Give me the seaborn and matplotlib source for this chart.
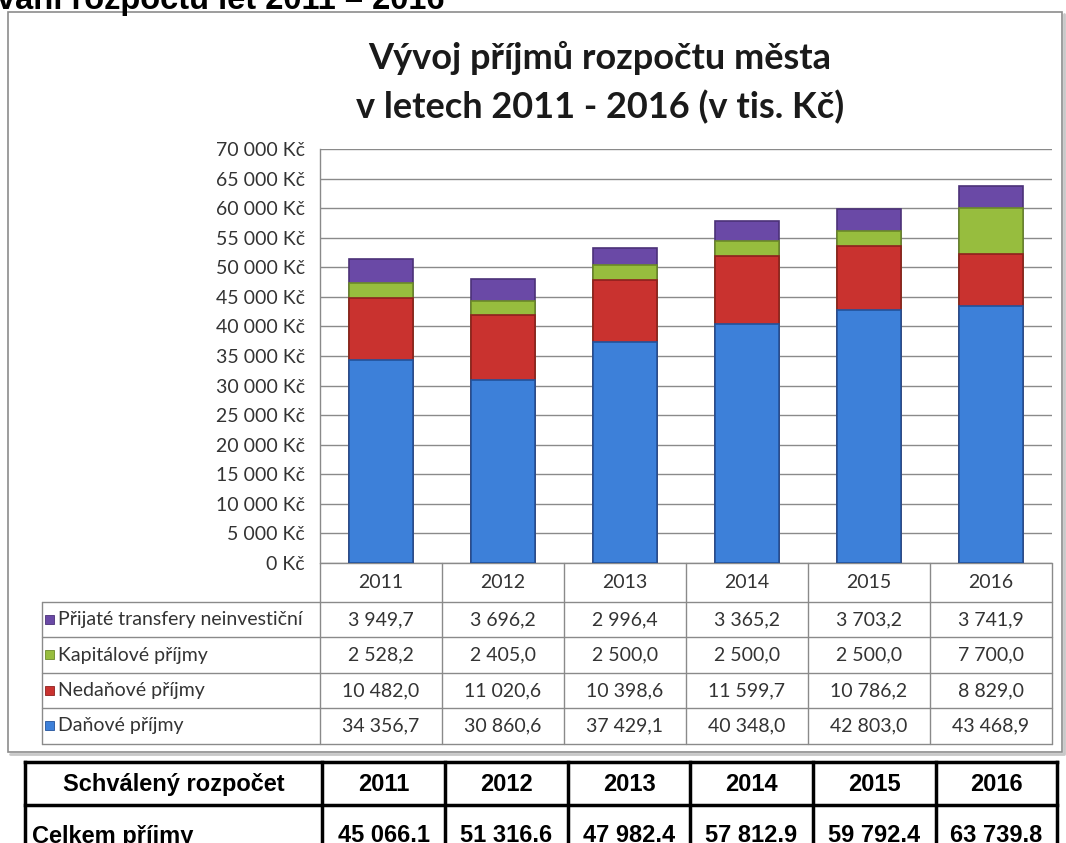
import pandas as pd
import matplotlib
matplotlib.use("Agg")
import matplotlib.pyplot as plt
import seaborn as sns
from matplotlib import font_manager
from matplotlib.patches import Rectangle

years = ["2011", "2012", "2013", "2014", "2015", "2016"]
danove = [34356.7, 30860.6, 37429.1, 40348.0, 42803.0, 43468.9]
nedanove = [10482.0, 11020.6, 10398.6, 11599.7, 10786.2, 8829.0]
kapitalove = [2528.2, 2405.0, 2500.0, 2500.0, 2500.0, 7700.0]
transfery = [3949.7, 3696.2, 2996.4, 3365.2, 3703.2, 3741.9]
celkem = [45066.1, 51316.6, 47982.4, 57812.9, 59792.4, 63739.8]

# top-to-bottom order as in the data table under the chart
series = [
    ("Přijaté transfery neinvestiční", transfery, "#6a49a6", "#4b3178"),
    ("Kapitálové příjmy", kapitalove, "#97bd3e", "#6b8a27"),
    ("Nedaňové příjmy", nedanove, "#c9322f", "#8e201e"),
    ("Daňové příjmy", danove, "#3d80d9", "#22529a"),
]

sns.set_theme(style="white")


def has_font(name):
    try:
        font_manager.findfont(name, fallback_to_default=False)
        return True
    except Exception:
        return False


body = "Lato" if has_font("Lato") else "DejaVu Sans"
plt.rcParams["font.family"] = [body, "DejaVu Sans"]

W, H = 1066, 843
fig = plt.figure(figsize=(W / 100, H / 100), dpi=100)

# background layer in pixel coordinates for frame and tables
bg = fig.add_axes([0, 0, 1, 1], zorder=0)
bg.set_xlim(0, W)
bg.set_ylim(H, 0)
bg.axis("off")

x_left, x_right, y_zero, y_top = 320, 1052, 563, 149
ax = fig.add_axes([x_left / W, 1 - y_zero / H, (x_right - x_left) / W, (y_zero - y_top) / H], zorder=1)
ax.set_facecolor("none")

txt_c = "#333333"
fs = 14


def cz(v):
    return f"{v:,.1f}".replace(",", " ").replace(".", ",")


# stacked bars: draw cumulative totals from the top series down
df = pd.DataFrame({"rok": years})
cum = [0.0] * len(years)
cums = []
for name, vals, c, ec in reversed(series):
    cum = [a + b for a, b in zip(cum, vals)]
    cums.append((name, list(cum), c, ec))
for name, vals, c, ec in reversed(cums):
    df[name] = vals
    sns.barplot(data=df, x="rok", y=name, color=c, saturation=1, width=0.53,
                edgecolor=ec, linewidth=1.2, ax=ax, zorder=3)

ax.set_xlim(-0.5, len(years) - 0.5)
ax.set_ylim(0, 70000)
ticks = list(range(0, 70001, 5000))
ax.set_yticks(ticks)
ax.set_yticklabels([f"{t:,}".replace(",", " ") + " Kč" for t in ticks], fontsize=fs, color=txt_c)
ax.tick_params(axis="y", length=0, pad=11)
ax.set_xticks([])
ax.set_xlabel("")
ax.set_ylabel("")
ax.grid(axis="y", color="#8a8a8a", linewidth=1, zorder=0)
ax.set_axisbelow(True)
for s in ["top", "right", "bottom"]:
    ax.spines[s].set_visible(False)
ax.spines["left"].set_color("#8a8a8a")
ax.spines["left"].set_linewidth(1)

# top clipped document heading
bg.text(-3, 9, "vání rozpočtu let 2011 – 2016", fontsize=23.5, fontweight="bold",
        family=["Liberation Sans", "DejaVu Sans"], ha="left", va="baseline", color="black")

# chart frame with a light shadow
bg.plot([10, 1064, 1064], [754, 754, 14], color="#c8c8c8", lw=2)
bg.add_patch(Rectangle((8, 12), 1054, 740, facecolor="white", edgecolor="#8c8c8c", linewidth=1.2))

# chart title
bg.text(600, 58, "Vývoj příjmů rozpočtu města", fontsize=26, fontweight="bold",
        ha="center", va="center", color="#1a1a1a")
bg.text(600, 107, "v letech 2011 - 2016 (v tis. Kč)", fontsize=26, fontweight="bold",
        ha="center", va="center", color="#1a1a1a")

# data table under the plot
line_c = "#8a8a8a"
colw = (x_right - x_left) / len(years)
col_edges = [x_left + i * colw for i in range(len(years) + 1)]
row_edges = [602, 637, 673, 708, 744]
lab_left = 42
bg.plot([x_left, x_right], [y_zero, y_zero], color=line_c, lw=1)
for xe in col_edges:
    bg.plot([xe, xe], [y_zero, row_edges[-1]], color=line_c, lw=1)
bg.plot([lab_left, lab_left], [row_edges[0], row_edges[-1]], color=line_c, lw=1)
for ye in row_edges:
    bg.plot([lab_left, x_right], [ye, ye], color=line_c, lw=1)
for i, y in enumerate(years):
    bg.text(col_edges[i] + colw / 2, (y_zero + row_edges[0]) / 2, y, fontsize=fs,
            ha="center", va="center", color=txt_c)
for r, (name, vals, c, ec) in enumerate(series):
    yc = (row_edges[r] + row_edges[r + 1]) / 2
    bg.add_patch(Rectangle((45, yc - 5), 9, 9, facecolor=c, edgecolor=ec, linewidth=0.6))
    bg.text(58, yc, name, fontsize=fs, ha="left", va="center", color=txt_c)
    for i, v in enumerate(vals):
        bg.text(col_edges[i] + colw / 2, yc, cz(v), fontsize=fs,
                ha="center", va="center", color=txt_c)

# approved budget table below the chart
t_edges = [25, 322, 445, 568, 690, 813, 936, 1057]
t_top, t_mid, t_bot = 762, 805, 870
tk = dict(color="black", lw=2.5, solid_capstyle="projecting")
bg.plot([t_edges[0], t_edges[-1]], [t_top, t_top], **tk)
bg.plot([t_edges[0], t_edges[-1]], [t_mid, t_mid], **tk)
for xe in t_edges:
    bg.plot([xe, xe], [t_top, t_bot], **tk)
tf = dict(fontsize=17, fontweight="bold", family=["Liberation Sans", "DejaVu Sans"], color="black")
bg.text((t_edges[0] + t_edges[1]) / 2, (t_top + t_mid) / 2 + 1, "Schválený rozpočet",
        ha="center", va="center", **tf)
bg.text(32, 836, "Celkem příjmy", ha="left", va="center", **tf)
for i, y in enumerate(years):
    xc = (t_edges[i + 1] + t_edges[i + 2]) / 2
    bg.text(xc, (t_top + t_mid) / 2 + 1, y, ha="center", va="center", **tf)
    bg.text(xc, 836, f"{celkem[i]:,.1f}".replace(",", " "), ha="center", va="center", **tf)

fig.savefig("out.png", dpi=100)
